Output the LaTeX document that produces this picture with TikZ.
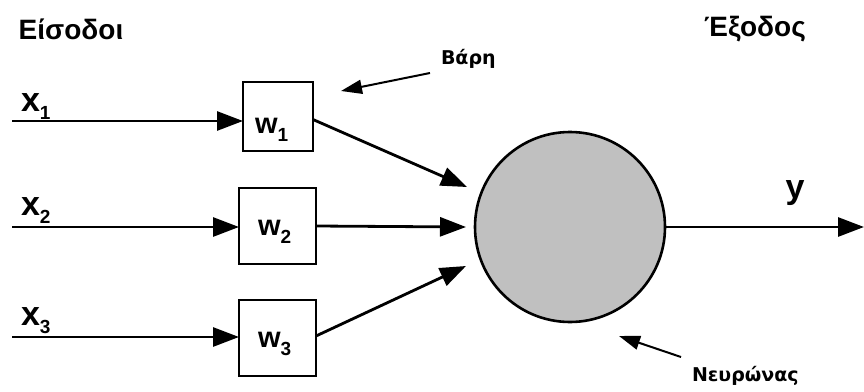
\documentclass[tikz,border=0pt]{standalone}
\usepackage{fontspec}
\setmainfont{Liberation Sans}
\newfontfamily\notefont{DejaVu Sans}
\usetikzlibrary{arrows.meta}

% subscript digit used in the x_i and w_i labels
\newcommand{\idx}[1]{\raisebox{-8pt}{\fontsize{19}{19}\selectfont #1}}

\begin{document}
\begin{tikzpicture}[x=1pt,y=-1pt,
  every node/.style={inner sep=0pt, outer sep=0pt},
  title/.style={font=\fontsize{28}{28}\selectfont\bfseries},
  var/.style={font=\fontsize{34}{34}\selectfont\bfseries, anchor=base west},
  wlab/.style={font=\fontsize{29}{29}\selectfont\bfseries, anchor=base west},
  note/.style={font=\fontsize{19}{19}\selectfont\notefont\bfseries},
  wbox/.style={draw, line width=2.6pt},
  neuron/.style={circle, draw, line width=2.6pt, fill={rgb,255:red,192;green,192;blue,192}, minimum size=190pt},
  link/.style={line width=2.8pt, -{Triangle[length=26pt,width=19pt]}},
  pointer/.style={line width=2pt, -{Triangle[length=21pt,width=14pt]}}
]
\useasboundingbox (0,0) rectangle (864,391);

% headings
\node[title] (inhead) at (71,29) {Είσοδοι};
\node[title] (outhead) at (755,29) {Έξοδος};

% weight boxes
\node[wbox, minimum width=70pt, minimum height=69pt] (w1) at (278,116.5) {};
\node[wbox, minimum width=77pt, minimum height=76pt] (w2) at (277.5,226) {};
\node[wbox, minimum width=77pt, minimum height=76pt] (w3) at (277.5,338) {};
\node[wlab] (w1t) at (255,133) {w\idx{1}};
\node[wlab] (w2t) at (258,235) {w\idx{2}};
\node[wlab] (w3t) at (258,347) {w\idx{3}};

% neuron
\node[neuron] (n) at (570,227) {};

% inputs
\coordinate (i1) at (12,121);
\coordinate (i2) at (12,227);
\coordinate (i3) at (12,337);
\node[var] (x1) at (21,111) {x\idx{1}};
\node[var] (x2) at (21,215) {x\idx{2}};
\node[var] (x3) at (21,325) {x\idx{3}};
\draw[link] (i1) -- (i1 -| w1.west);
\draw[link] (i2) -- (i2 -| w2.west);
\draw[link] (i3) -- (i3 -| w3.west);

% weighted signals into the neuron
\coordinate (t1) at (467,187);
\coordinate (t2) at (466,227);
\coordinate (t3) at (466,266);
\draw[link] ([yshift=-3pt]w1.east) -- (t1);
\draw[link] (w2.east) -- (t2);
\draw[link] ([yshift=2pt]w3.east) -- (t3);

% output
\coordinate (o) at (864,227);
\draw[link] (n.east) -- (o);
\node[var, anchor=base] (y) at (795,198) {y};

% annotations
\node[note, anchor=base west] (wnote) at (441,64) {Βάρη};
\coordinate (wnote-s) at (430,73);
\coordinate (wnote-e) at (341,91);
\draw[pointer] (wnote-s) -- (wnote-e);

\node[note, anchor=base west] (nnote) at (692,381) {Νευρώνας};
\coordinate (nnote-s) at (681,357);
\coordinate (nnote-e) at (619,336);
\draw[pointer] (nnote-s) -- (nnote-e);
\end{tikzpicture}
\end{document}
